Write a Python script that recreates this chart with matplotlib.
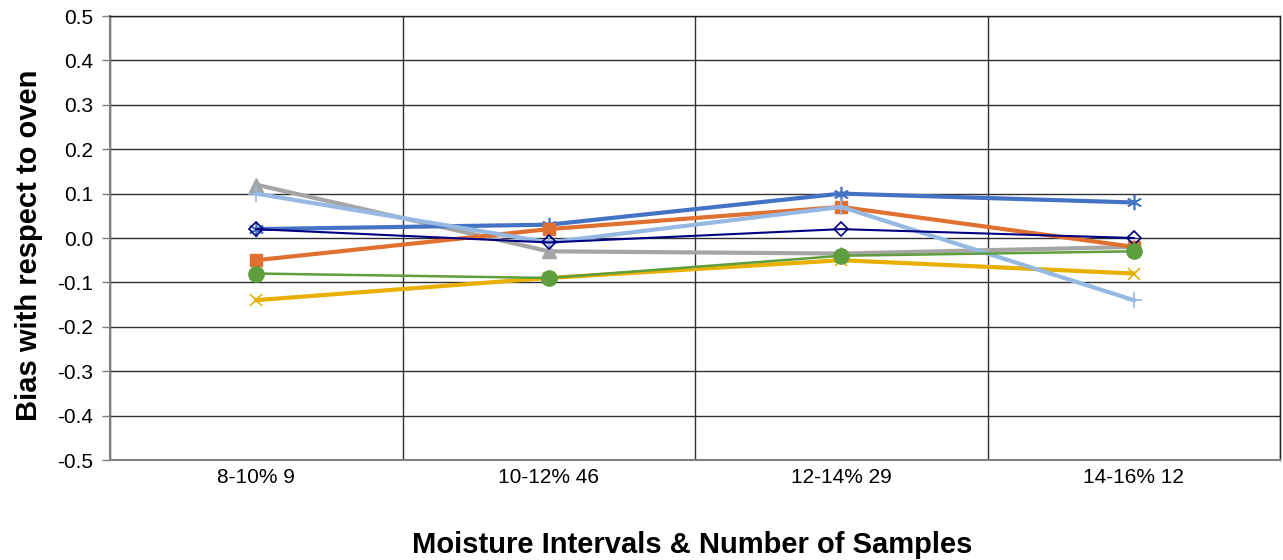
import matplotlib
matplotlib.use("Agg")
import matplotlib.pyplot as plt
import numpy as np

plt.rcParams['font.family'] = ['Liberation Sans', 'DejaVu Sans']

categories = ["8-10% 9", "10-12% 46", "12-14% 29", "14-16% 12"]
navy_vals = [0.02, -0.01, 0.02, 0.00]
blue_vals = [0.02, 0.03, 0.10, 0.08]
orange_vals = [-0.05, 0.02, 0.07, -0.02]
gray_vals = [0.12, -0.03, -0.035, -0.02]
yellow_vals = [-0.14, -0.09, -0.05, -0.08]
lightblue_vals = [0.10, -0.01, 0.07, -0.14]
green_vals = [-0.08, -0.09, -0.04, -0.03]
yticks = [0.5, 0.4, 0.3, 0.2, 0.1, 0.0, -0.1, -0.2, -0.3, -0.4, -0.5]

fig = plt.figure(figsize=(12.83, 5.60), dpi=100)
ax = fig.add_axes([110/1283, 1-460/560, 1170/1283, 444/560])
x = np.arange(len(categories))

ax.plot(x, navy_vals, color='#000080', lw=1.5, marker='D', ms=7, mfc='none', mec='#000080', mew=1.2, zorder=5)
ax.plot(x, blue_vals, color='#4472C4', lw=3, marker=(6, 2, 0), ms=11, mec='#4472C4', mew=1.2, zorder=4)
ax.plot(x, orange_vals, color='#E07030', lw=3, marker='s', ms=9, mfc='#E07030', mec='#E07030', zorder=4)
ax.plot(x, gray_vals, color='#A5A5A5', lw=3, marker='^', ms=10, mfc='#A5A5A5', mec='#A5A5A5', zorder=3)
ax.plot(x, yellow_vals, color='#E8B000', lw=3, marker='x', ms=9, mec='#E8B000', mew=1.2, zorder=3)
ax.plot(x, lightblue_vals, color='#95B9E3', lw=3, marker='+', ms=11, mec='#95B9E3', mew=1.2, zorder=4)
ax.plot(x, green_vals, color='#5E9E3D', lw=1.8, marker='o', ms=11, mfc='#5E9E3D', mec='#5E9E3D', zorder=5)

ax.set_xlim(-0.5, len(categories) - 0.5)
ax.set_ylim(-0.5, 0.5)
ax.set_yticks(yticks)
ax.set_yticklabels([f"{v:.1f}" for v in yticks], fontsize=15)
ax.set_xticks(x)
ax.set_xticklabels(categories, fontsize=15)
ax.set_xticks(np.arange(-0.5, len(categories)), minor=True)
ax.tick_params(axis='x', which='both', length=0, pad=6)
ax.tick_params(axis='y', length=6, width=1, color='#808080', pad=6)
ax.grid(axis='y', which='major', color='#303030', lw=1)
ax.grid(axis='x', which='minor', color='#303030', lw=1)
ax.grid(axis='x', which='major', visible=False)
ax.set_axisbelow(True)
for s in ['left', 'bottom']:
    ax.spines[s].set_color('#808080')
    ax.spines[s].set_linewidth(1.5)
for s in ['top', 'right']:
    ax.spines[s].set_color('#202020')
    ax.spines[s].set_linewidth(1)

ax.set_ylabel("Bias with respect to oven", fontsize=21, fontweight='bold')
ax.yaxis.set_label_coords(-0.057, 0.484)
fig.text(692/1283, 1-545/560, "Moisture Intervals & Number of Samples", fontsize=21,
         fontweight='bold', ha='center', va='center')

fig.savefig("out.png", dpi=100)
